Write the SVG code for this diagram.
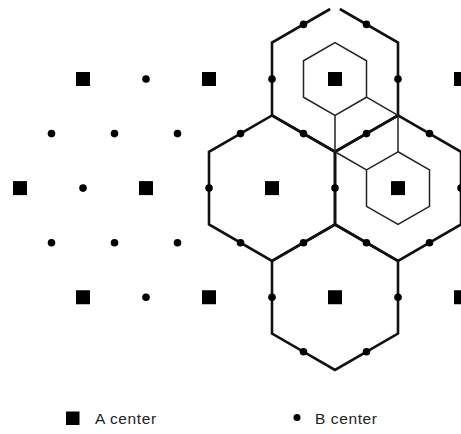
<svg xmlns="http://www.w3.org/2000/svg" xmlns:xlink="http://www.w3.org/1999/xlink" width="461" height="434" viewBox="0 0 461 434">
<style>
.thick{fill:none;stroke:#111;stroke-width:2.6;stroke-linejoin:miter}
.thin{fill:none;stroke:#222;stroke-width:1.5}
.lbl{font-family:"Liberation Sans",Arial,sans-serif;font-size:15.5px;fill:#222;letter-spacing:0.6px}
</style>
<defs>
<rect id="sq" x="-7" y="-7" width="14" height="14" fill="#000"/>
<circle id="dt" r="3.8" fill="#000"/>
</defs>
<rect width="461" height="434" fill="#fff"/>
<g id="cells">
<g id="hexA1"><path class="thick" d="M330.2,9 L272,42.6 L272,115.4 L335,151.75 L398,115.4 L398,42.6 L339.8,9"/></g>
<g id="hexA2"><path class="thick" d="M272,115.4 L335,151.75 L335,224.5 L272,260.9 L209,224.5 L209,151.75 Z"/></g>
<g id="hexA3"><path class="thick" d="M398,115.4 L461,151.75 L461,224.5 L398,260.9 L335,224.5 L335,151.75 Z"/></g>
<g id="hexA4"><path class="thick" d="M335,224.5 L398,260.9 L398,333.6 L335,370 L272,333.6 L272,260.9 Z"/></g>
<g id="hexB1"><path class="thin" d="M335,42.6 L366.5,60.8 L366.5,97.2 L335,115.4 L303.5,97.2 L303.5,60.8 Z"/></g>
<g id="hexB3"><path class="thin" d="M398,151.75 L429.5,169.9 L429.5,206.3 L398,224.5 L366.5,206.3 L366.5,169.9 Z"/></g>
</g>
<g id="connectors">
<path class="thin" d="M335,115.4 L335,151.75 M366.5,97.2 L398,115.4 M398,115.4 L398,151.75 M335,151.75 L366.5,169.9"/>
</g>
<g id="a-centers">
<use xlink:href="#sq" x="83" y="79"/><use xlink:href="#sq" x="209" y="79"/><use xlink:href="#sq" x="335" y="79"/><use xlink:href="#sq" x="461" y="79"/>
<use xlink:href="#sq" x="20" y="188.1"/><use xlink:href="#sq" x="146" y="188.1"/><use xlink:href="#sq" x="272" y="188.1"/><use xlink:href="#sq" x="398" y="188.1"/>
<use xlink:href="#sq" x="83" y="297.25"/><use xlink:href="#sq" x="209" y="297.25"/><use xlink:href="#sq" x="335" y="297.25"/><use xlink:href="#sq" x="461" y="297.25"/>
</g>
<g id="b-centers">
<use xlink:href="#dt" x="303.5" y="24.4"/><use xlink:href="#dt" x="366.5" y="24.4"/>
<use xlink:href="#dt" x="146" y="79"/><use xlink:href="#dt" x="272" y="79"/><use xlink:href="#dt" x="398" y="79"/>
<use xlink:href="#dt" x="51.5" y="133.6"/><use xlink:href="#dt" x="114.5" y="133.6"/><use xlink:href="#dt" x="177.5" y="133.6"/><use xlink:href="#dt" x="240.5" y="133.6"/><use xlink:href="#dt" x="303.5" y="133.6"/><use xlink:href="#dt" x="366.5" y="133.6"/><use xlink:href="#dt" x="429.5" y="133.6"/>
<use xlink:href="#dt" x="83" y="188.1"/><use xlink:href="#dt" x="209" y="188.1"/><use xlink:href="#dt" x="335" y="188.1"/><use xlink:href="#dt" x="461" y="188.1"/>
<use xlink:href="#dt" x="51.5" y="242.7"/><use xlink:href="#dt" x="114.5" y="242.7"/><use xlink:href="#dt" x="177.5" y="242.7"/><use xlink:href="#dt" x="240.5" y="242.7"/><use xlink:href="#dt" x="303.5" y="242.7"/><use xlink:href="#dt" x="366.5" y="242.7"/><use xlink:href="#dt" x="429.5" y="242.7"/>
<use xlink:href="#dt" x="146" y="297.25"/><use xlink:href="#dt" x="272" y="297.25"/><use xlink:href="#dt" x="398" y="297.25"/>
<use xlink:href="#dt" x="303.5" y="351.8"/><use xlink:href="#dt" x="366.5" y="351.8"/>
</g>
<g id="legend">
<g id="legend-a"><rect x="66" y="411.5" width="13.5" height="13.5" fill="#000"/><text class="lbl" x="95" y="424">A center</text></g>
<g id="legend-b"><circle cx="297" cy="417.5" r="3.5" fill="#000"/><text class="lbl" x="315" y="424">B center</text></g>
</g>
</svg>
